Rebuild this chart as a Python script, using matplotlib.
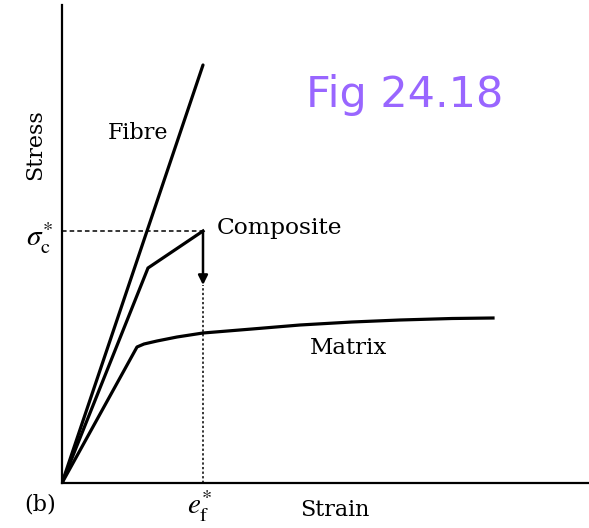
"""Stress-strain curves for fibre, matrix and composite (Fig 24.18 b)"""

import matplotlib.pyplot as plt

plt.rcParams['mathtext.fontset'] = 'stix'

# strain / stress values in arbitrary units
fibre_strain = [0, 141]
fibre_stress = [0, 418]

composite_strain = [0, 86, 141]
composite_stress = [0, 215, 252]
composite_drop = 198  # stress after fibre failure

matrix_strain = [0, 75, 82, 95, 115, 141, 190, 238, 290, 338, 390, 431]
matrix_stress = [0, 136, 139, 142, 146, 150, 154, 158, 161, 163, 164.5, 165]

fail_strain = 141
fail_stress = 252

W, H = 589, 528
fig = plt.figure(figsize=(W / 100, H / 100), dpi=100)
ax = fig.add_axes([62 / W, 45 / H, 527 / W, 478 / H])
ax.set_xlim(0, 527)
ax.set_ylim(0, 478)

for s in ['top', 'right']:
    ax.spines[s].set_visible(False)
for s in ['left', 'bottom']:
    ax.spines[s].set_linewidth(1.6)
ax.set_xticks([])
ax.set_yticks([])

lw = 2.3
ax.plot(fibre_strain, fibre_stress, color='black', lw=lw, solid_capstyle='round')
ax.plot(composite_strain, composite_stress, color='black', lw=lw, solid_joinstyle='miter')
ax.plot(matrix_strain, matrix_stress, color='black', lw=lw)

# drop of composite at fibre failure
ax.annotate('', xy=(fail_strain, composite_drop), xytext=(fail_strain, fail_stress),
            arrowprops=dict(arrowstyle='-|>', color='black', lw=1.8,
                            mutation_scale=14, shrinkA=0, shrinkB=0))

# guide lines
ax.plot([0, fail_strain], [fail_stress, fail_stress], color='black', lw=1.1, ls=(0, (3, 2)))
ax.plot([fail_strain, fail_strain], [0, composite_drop], color='black', lw=1.1, ls=(0, (1.5, 1.5)))

serif = 'DejaVu Serif'
fs = 16
ax.text(46, 350, 'Fibre', family=serif, fontsize=fs, va='center')
ax.text(155, 255, 'Composite', family=serif, fontsize=16.8, va='center')
ax.text(248, 135, 'Matrix', family=serif, fontsize=16.5, va='center')

fig.text(35 / W, 1 - 145 / H, 'Stress', family=serif, fontsize=fs, rotation=90,
         ha='center', va='center')
fig.text(40 / W, 1 - 238 / H, r'$\sigma_{\mathrm{c}}^{*}$', fontsize=21,
         ha='center', va='center')
fig.text(200 / W, 1 - 506 / H, r'$e_{\mathrm{f}}^{*}$', fontsize=21,
         ha='center', va='center')
fig.text(335 / W, 1 - 510 / H, 'Strain', family=serif, fontsize=fs,
         ha='center', va='center')
fig.text(40 / W, 1 - 504 / H, '(b)', family=serif, fontsize=fs,
         ha='center', va='center')

fig.text(405 / W, 1 - 95 / H, 'Fig 24.18', color='#9966ff', fontsize=31,
         family='DejaVu Sans', ha='center', va='center')

fig.savefig('out.png', dpi=100)
